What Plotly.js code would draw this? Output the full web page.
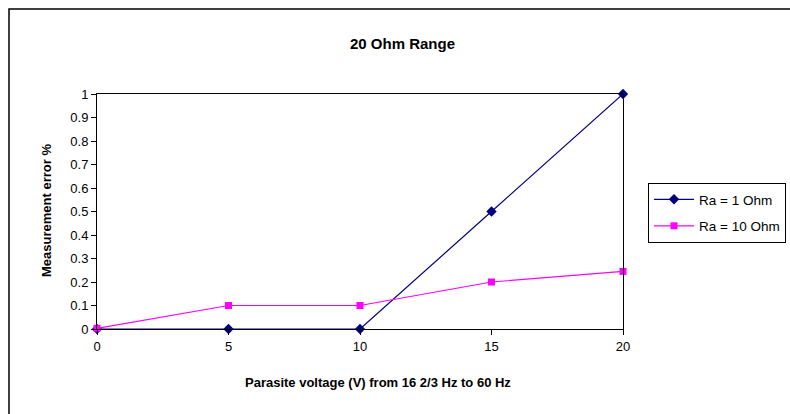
<!DOCTYPE html>
<html><head><meta charset="utf-8">
<script src="https://cdn.plot.ly/plotly-3.0.1.min.js"></script>
<style>body{margin:0;background:#fff}#c{width:790px;height:414px}</style>
</head><body><div id="c"></div>
<script>
const voltage = [0, 5, 10, 15, 20];
const ra1 = [0, 0, 0, 0.5, 1];
const ra10 = [0.003, 0.1, 0.1, 0.2, 0.245];
const seriesNames = ["Ra = 1 Ohm", "Ra = 10 Ohm"];
const yTicks = [0, 0.1, 0.2, 0.3, 0.4, 0.5, 0.6, 0.7, 0.8, 0.9, 1];

const L = 97, R = 623, T = 94, B = 329, W = 790, H = 414;
const px = x => (x - L) / (R - L);
const py = y => (B - y) / (B - T);
const font = {family: "Arial, Liberation Sans, sans-serif", color: "#000"};

const traces = [
  {x: voltage, y: ra1, name: seriesNames[0], legendgroup: "a", mode: "lines+markers",
   line: {color: "#000080", width: 1.2}, marker: {symbol: "diamond", size: 8, color: "#000080"}, cliponaxis: false},
  {x: voltage, y: ra10, name: seriesNames[1], legendgroup: "b", mode: "lines+markers",
   line: {color: "#FF00FF", width: 1.2}, marker: {symbol: "square", size: 7, color: "#FF00FF"}, cliponaxis: false}
];

const layout = {
  width: W, height: H,
  margin: {l: L, r: W - R, t: T, b: H - B, pad: 0},
  paper_bgcolor: "#fff", plot_bgcolor: "#fff",
  font: Object.assign({size: 13}, font),
  showlegend: true,
  legend: {xref: "container", yref: "container", x: 648 / W, y: 1 - 183 / H, xanchor: "left", yanchor: "top",
    bordercolor: "#000", borderwidth: 1, bgcolor: "#fff", traceorder: "grouped",
    font: Object.assign({size: 13.5}, font), tracegroupgap: 6, itemwidth: 40},
  xaxis: {range: [0, 20], tickvals: voltage, ticks: "outside", ticklen: 5, tickcolor: "#000",
    showline: true, linecolor: "#000", linewidth: 1, mirror: true, showgrid: false, zeroline: false,
    tickfont: Object.assign({size: 13}, font)},
  yaxis: {range: [0, 1], tickvals: yTicks, ticktext: yTicks.map(String), ticks: "outside", ticklen: 5, tickcolor: "#000",
    showline: true, linecolor: "#000", linewidth: 1, mirror: true, showgrid: false, zeroline: false,
    tickfont: Object.assign({size: 13}, font)},
  annotations: [
    {text: "<b>20 Ohm Range</b>", xref: "paper", yref: "paper", x: px(402), y: py(43),
     xanchor: "center", yanchor: "middle", showarrow: false, font: Object.assign({size: 15}, font)},
    {text: "<b>Parasite voltage (V) from 16 2/3 Hz to 60 Hz</b>", xref: "paper", yref: "paper", x: px(378), y: py(382),
     xanchor: "center", yanchor: "middle", showarrow: false, font: Object.assign({size: 13}, font)},
    {text: "<b>Measurement error %</b>", xref: "paper", yref: "paper", x: px(46), y: py(211),
     xanchor: "center", yanchor: "middle", textangle: -90, showarrow: false, font: Object.assign({size: 13}, font)}
  ],
  shapes: [
    {type: "path", xref: "paper", yref: "paper",
     path: `M ${px(9)} ${py(H + 5)} L ${px(9)} ${py(9)} L ${px(W + 5)} ${py(9)}`,
     line: {color: "#000", width: 1.5}}
  ]
};
Plotly.newPlot("c", traces, layout, {staticPlot: true});
</script></body></html>
